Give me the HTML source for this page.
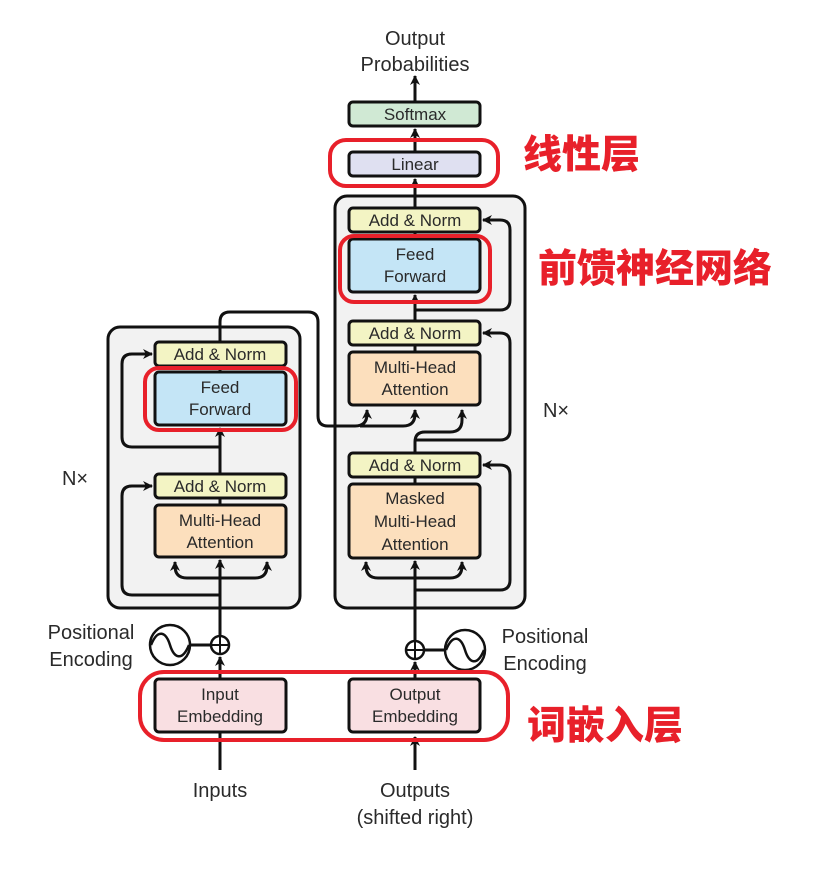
<!DOCTYPE html>
<html><head><meta charset="utf-8"><style>
html,body{margin:0;padding:0;background:#fff;}
svg{display:block;font-family:"Liberation Sans","Noto Sans CJK SC",sans-serif;}
.t{font-size:17px;fill:#2a2a2a;text-anchor:middle;}
.b{stroke:#111;stroke-width:3;}
.l{stroke:#111;stroke-width:3;fill:none;}
.r{stroke:#e8202a;stroke-width:4;fill:none;}
.cn{font-family:"Noto Sans CJK SC",sans-serif;font-weight:900;fill:#e8202a;font-size:39px;}
</style></head><body>
<svg width="814" height="885" viewBox="0 0 814 885">
<defs><marker id="a" markerWidth="10" markerHeight="10" refX="9" refY="5" orient="auto" markerUnits="userSpaceOnUse"><path d="M0,0 L10,5 L0,10 L3,5Z" fill="#111"/></marker></defs>
<rect x="108" y="327" width="192" height="281" rx="12" fill="#f2f2f2" class="b"/>
<rect x="335" y="196" width="190" height="412" rx="12" fill="#f2f2f2" class="b"/>

<path class="l" d="M220,770 V684" marker-end="url(#a)"/>
<path class="l" d="M220,679 V657" marker-end="url(#a)"/>
<path class="l" d="M220,636 V560" marker-end="url(#a)"/>
<path class="l" d="M220,578 H187 Q175,578 175,566 V562" marker-end="url(#a)"/>
<path class="l" d="M220,578 H255 Q267,578 267,566 V562" marker-end="url(#a)"/>
<path class="l" d="M220,595 H132 Q122,595 122,585 V496 Q122,486 132,486 H152" marker-end="url(#a)"/>
<path class="l" d="M220,498 V428" marker-end="url(#a)"/>
<path class="l" d="M220,447 H132 Q122,447 122,437 V364 Q122,354 132,354 H152" marker-end="url(#a)"/>
<path class="l" d="M220,342 V322 Q220,312 230,312 H308 Q318,312 318,322 V416 Q318,426 328,426 H355 Q367,426 367,414 V410" marker-end="url(#a)"/>
<path class="l" d="M360,426 H403 Q415,426 415,414 V410" marker-end="url(#a)"/>
<path class="l" d="M415,770 V737" marker-end="url(#a)"/>
<path class="l" d="M415,679 V662" marker-end="url(#a)"/>
<path class="l" d="M415,640 V561" marker-end="url(#a)"/>
<path class="l" d="M415,578 H378 Q366,578 366,566 V562" marker-end="url(#a)"/>
<path class="l" d="M415,578 H450 Q462,578 462,566 V562" marker-end="url(#a)"/>
<path class="l" d="M415,590 H500 Q510,590 510,580 V475 Q510,465 500,465 H483" marker-end="url(#a)"/>
<path class="l" d="M415,453 V442 Q415,432 425,432 H450 Q462,432 462,420 V410" marker-end="url(#a)"/>
<path class="l" d="M415,440 H500 Q510,440 510,430 V343 Q510,333 500,333 H483" marker-end="url(#a)"/>
<path class="l" d="M415,321 V295" marker-end="url(#a)"/>
<path class="l" d="M415,310 H500 Q510,310 510,300 V230 Q510,220 500,220 H483" marker-end="url(#a)"/>
<path class="l" d="M415,208 V179" marker-end="url(#a)"/>
<path class="l" d="M415,152 V129" marker-end="url(#a)"/>
<path class="l" d="M415,102 V76" marker-end="url(#a)"/>
<line class="l" x1="415" y1="345" x2="415" y2="352"/>
<line class="l" x1="415" y1="232" x2="415" y2="239"/>
<line class="l" x1="415" y1="477" x2="415" y2="484"/>
<line class="l" x1="220" y1="366" x2="220" y2="372"/>
<line class="l" x1="220" y1="498" x2="220" y2="505"/>

<rect x="155" y="342" width="131" height="24" rx="4" fill="#f3f4c4" class="b"/>
<text class="t" x="220" y="360">Add &amp; Norm</text>
<rect x="155" y="372" width="131" height="53" rx="4" fill="#c4e5f6" class="b"/>
<text class="t" x="220" y="393">Feed</text><text class="t" x="220" y="415">Forward</text>
<rect x="155" y="474" width="131" height="24" rx="4" fill="#f3f4c4" class="b"/>
<text class="t" x="220" y="492">Add &amp; Norm</text>
<rect x="155" y="505" width="131" height="52" rx="4" fill="#fcdfbd" class="b"/>
<text class="t" x="220" y="526">Multi-Head</text><text class="t" x="220" y="548">Attention</text>

<rect x="349" y="102" width="131" height="24" rx="4" fill="#d0e9d4" class="b"/>
<text class="t" x="415" y="120">Softmax</text>
<rect x="349" y="152" width="131" height="24" rx="4" fill="#dfe0f1" class="b"/>
<text class="t" x="415" y="170">Linear</text>
<rect x="349" y="208" width="131" height="24" rx="4" fill="#f3f4c4" class="b"/>
<text class="t" x="415" y="226">Add &amp; Norm</text>
<rect x="349" y="239" width="131" height="53" rx="4" fill="#c4e5f6" class="b"/>
<text class="t" x="415" y="260">Feed</text><text class="t" x="415" y="282">Forward</text>
<rect x="349" y="321" width="131" height="24" rx="4" fill="#f3f4c4" class="b"/>
<text class="t" x="415" y="339">Add &amp; Norm</text>
<rect x="349" y="352" width="131" height="53" rx="4" fill="#fcdfbd" class="b"/>
<text class="t" x="415" y="373">Multi-Head</text><text class="t" x="415" y="395">Attention</text>
<rect x="349" y="453" width="131" height="24" rx="4" fill="#f3f4c4" class="b"/>
<text class="t" x="415" y="471">Add &amp; Norm</text>
<rect x="349" y="484" width="131" height="74" rx="4" fill="#fcdfbd" class="b"/>
<text class="t" x="415" y="504">Masked</text><text class="t" x="415" y="527">Multi-Head</text><text class="t" x="415" y="550">Attention</text>

<rect x="155" y="679" width="131" height="53" rx="4" fill="#f9dfe2" class="b"/>
<text class="t" x="220" y="700">Input</text><text class="t" x="220" y="722">Embedding</text>
<rect x="349" y="679" width="131" height="53" rx="4" fill="#f9dfe2" class="b"/>
<text class="t" x="415" y="700">Output</text><text class="t" x="415" y="722">Embedding</text>

<line class="l" x1="190" y1="645" x2="211" y2="645"/>
<circle cx="220" cy="645" r="9" fill="#fff" stroke="#111" stroke-width="2.5"/>
<path d="M211,645 H229 M220,636 V654" stroke="#111" stroke-width="2"/>
<circle cx="170" cy="645" r="20" fill="#fff" stroke="#111" stroke-width="2.5"/>
<path d="M151,645 C158,628 166,632 170,645 C174,658 182,662 189,645" fill="none" stroke="#111" stroke-width="2.5"/>
<line class="l" x1="424" y1="650" x2="445" y2="650"/>
<circle cx="415" cy="650" r="9" fill="#fff" stroke="#111" stroke-width="2.5"/>
<path d="M406,650 H424 M415,641 V659" stroke="#111" stroke-width="2"/>
<circle cx="465" cy="650" r="20" fill="#fff" stroke="#111" stroke-width="2.5"/>
<path d="M446,650 C453,633 461,637 465,650 C469,663 477,667 484,650" fill="none" stroke="#111" stroke-width="2.5"/>

<text class="t" x="415" y="45" style="font-size:20px">Output</text>
<text class="t" x="415" y="71" style="font-size:20px">Probabilities</text>
<text class="t" x="91" y="639" style="font-size:20px">Positional</text>
<text class="t" x="91" y="666" style="font-size:20px">Encoding</text>
<text class="t" x="545" y="643" style="font-size:20px">Positional</text>
<text class="t" x="545" y="670" style="font-size:20px">Encoding</text>
<text class="t" x="75" y="485" style="font-size:20px">N×</text>
<text class="t" x="556" y="417" style="font-size:20px">N×</text>
<text class="t" x="220" y="797" style="font-size:20px">Inputs</text>
<text class="t" x="415" y="797" style="font-size:20px">Outputs</text>
<text class="t" x="415" y="824" style="font-size:20px">(shifted right)</text>

<rect class="r" x="145" y="368" width="151" height="62" rx="14"/>
<rect class="r" x="340" y="236" width="150" height="66" rx="14"/>
<rect class="r" x="330" y="140" width="168" height="46" rx="16"/>
<rect class="r" x="140" y="672" width="368" height="68" rx="24"/>
<text class="cn" x="523" y="168">线性层</text>
<text class="cn" x="538" y="282">前馈神经网络</text>
<text class="cn" x="527" y="739">词嵌入层</text>
</svg>
</body></html>
